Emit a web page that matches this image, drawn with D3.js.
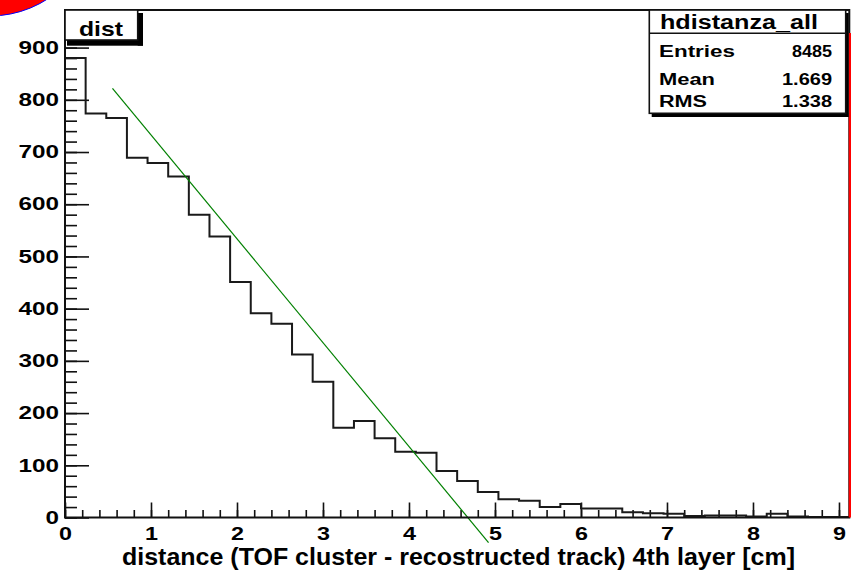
<!DOCTYPE html>
<html>
<head>
<meta charset="utf-8">
<script src="https://cdn.jsdelivr.net/npm/d3@7"></script>
<style>
body { margin: 0; background: #fff; }
svg { display: block; }
text { font-family: "Liberation Sans", Arial, sans-serif; font-weight: bold; fill: #000; }
</style>
</head>
<body>
<div id="chart"></div>
<script>
// histogram contents (38 bins of 0.24 cm starting at 0)
const binValues = [880, 774, 765, 689, 679, 653, 580, 538, 451, 391, 371, 312, 260, 172, 185, 152,
    126, 124, 89, 70, 49, 35, 32, 20, 26, 17, 17, 10, 8, 7, 3, 4, 4, 2, 7, 2, 1, 1]
const binStart = 0
const binWidth = 0.24
const xDomain = [0, 9.12]
const yDomain = [0, 972]
const xTicks = [0, 1, 2, 3, 4, 5, 6, 7, 8, 9]
const yTicks = [0, 100, 200, 300, 400, 500, 600, 700, 800, 900]
// linear fit p0 + p1*x and its range
const fitParams = [931.6, -198.9]
const fitRange = [0.552, 4.925]
const statNames = ["Entries", "Mean", "RMS"]
const statValues = ["8485", "1.669", "1.338"]
const histName = "hdistanza_all"
const histTitle = "dist"
const xTitle = "distance (TOF cluster - recostructed track) 4th layer [cm]"

const width = 851
const height = 571
const frame = {left: 65, right: 849.3, top: 10, bottom: 517.5}

const svg = d3.select("#chart").append("svg")
    .attr("width", width)
    .attr("height", height)

svg.append("rect").attr("width", width).attr("height", height).attr("fill", "#fff")

const x = d3.scaleLinear().domain(xDomain).range([frame.left, frame.right])
const y = d3.scaleLinear().domain(yDomain).range([frame.bottom, frame.top])

// red blob in the corner
svg.append("circle")
    .attr("cx", -10).attr("cy", -90).attr("r", 106)
    .attr("fill", "#ff0000").attr("stroke", "#0000ff").attr("stroke-width", 1)

// minor ticks
const xMinor = d3.range(0, 9.1, 0.2)
const yMinor = d3.range(0, 961, 20)

svg.append("g")
    .attr("transform", `translate(0,${frame.bottom})`)
    .call(d3.axisBottom(x).tickValues(xMinor).tickSize(-7.5).tickFormat(""))
    .call(g => g.select(".domain").remove())
    .selectAll("line").attr("stroke", "#111").attr("stroke-width", 1.6)

svg.append("g")
    .attr("transform", `translate(${frame.left},0)`)
    .call(d3.axisLeft(y).tickValues(yMinor).tickSize(-12).tickFormat(""))
    .call(g => g.select(".domain").remove())
    .selectAll("line").attr("stroke", "#111").attr("stroke-width", 1.6)

// major ticks + labels
const xAxis = svg.append("g")
    .attr("transform", `translate(0,${frame.bottom})`)
    .call(d3.axisBottom(x).tickValues(xTicks).tickSize(-15).tickPadding(9).tickFormat(d3.format("d")))
    .call(g => g.select(".domain").remove())
xAxis.selectAll("line").attr("stroke", "#111").attr("stroke-width", 1.6)
xAxis.selectAll("text")
    .attr("font-size", 19)
    .attr("font-family", null)
    .attr("textLength", d => String(d).length * 13)
    .attr("lengthAdjust", "spacingAndGlyphs")

const yAxis = svg.append("g")
    .attr("transform", `translate(${frame.left},0)`)
    .call(d3.axisLeft(y).tickValues(yTicks).tickSize(-24).tickPadding(6).tickFormat(d3.format("d")))
    .call(g => g.select(".domain").remove())
yAxis.selectAll("line").attr("stroke", "#111").attr("stroke-width", 1.6)
yAxis.selectAll("text")
    .attr("font-size", 18)
    .attr("font-family", null)
    .attr("textLength", d => String(d).length * 13.5)
    .attr("lengthAdjust", "spacingAndGlyphs")

// histogram outline
const edges = binValues.map((v, i) => ({x: binStart + i * binWidth, v: v}))
edges.push({x: binStart + binValues.length * binWidth, v: binValues[binValues.length - 1]})

const step = d3.line()
    .x(d => x(d.x))
    .y(d => y(d.v))
    .curve(d3.curveStepAfter)

svg.append("path")
    .datum(edges)
    .attr("d", step)
    .attr("fill", "none")
    .attr("stroke", "#1a1a1a")
    .attr("stroke-width", 2)

// fit line
const fitPoints = fitRange.map(t => ({x: t, v: fitParams[0] + fitParams[1] * t}))
svg.append("path")
    .datum(fitPoints)
    .attr("d", d3.line().x(d => x(d.x)).y(d => y(d.v)))
    .attr("fill", "none")
    .attr("stroke", "#008000")
    .attr("stroke-width", 1.2)

// frame
svg.append("rect")
    .attr("x", frame.left).attr("y", frame.top)
    .attr("width", frame.right - frame.left).attr("height", frame.bottom - frame.top)
    .attr("fill", "none").attr("stroke", "#111").attr("stroke-width", 2)

// red pad edge on the right
svg.append("line")
    .attr("x1", 850).attr("x2", 850).attr("y1", 33).attr("y2", frame.bottom)
    .attr("stroke", "#ff0000").attr("stroke-width", 2.5)

// title box
svg.append("rect").attr("x", 137.7).attr("y", 13).attr("width", 5.3).attr("height", 32.7).attr("fill", "#000")
svg.append("rect").attr("x", 67).attr("y", 40).attr("width", 76).attr("height", 5.7).attr("fill", "#000")
svg.append("rect")
    .attr("x", frame.left).attr("y", frame.top).attr("width", 72.7).attr("height", 30)
    .attr("fill", "#fff").attr("stroke", "#111").attr("stroke-width", 1.6)
svg.append("text")
    .attr("x", 79).attr("y", 35.5)
    .attr("font-size", 21)
    .attr("textLength", 44).attr("lengthAdjust", "spacingAndGlyphs")
    .text(histTitle)

// stats box
const sb = {left: 649.3, right: 845.7, top: 10, sep: 33.3, bottom: 113.3}
svg.append("rect").attr("x", 651.7).attr("y", sb.bottom).attr("width", 196.5).attr("height", 3.7).attr("fill", "#000")
svg.append("rect").attr("x", sb.right).attr("y", 13).attr("width", 3).attr("height", 104).attr("fill", "#000")
svg.append("rect")
    .attr("x", sb.left).attr("y", sb.top).attr("width", sb.right - sb.left).attr("height", sb.bottom - sb.top)
    .attr("fill", "#fff").attr("stroke", "#111").attr("stroke-width", 1.6)
svg.append("line")
    .attr("x1", sb.left).attr("x2", sb.right).attr("y1", sb.sep).attr("y2", sb.sep)
    .attr("stroke", "#111").attr("stroke-width", 1.6)
svg.append("text")
    .attr("x", 739).attr("y", 28.5)
    .attr("text-anchor", "middle")
    .attr("font-size", 20)
    .attr("textLength", 158).attr("lengthAdjust", "spacingAndGlyphs")
    .text(histName)

const rowBase = [56.7, 84.5, 106.7]
const nameLen = [76, 56, 48]
svg.append("g").selectAll("text")
    .data(statNames)
    .join("text")
    .attr("x", 659)
    .attr("y", (d, i) => rowBase[i])
    .attr("font-size", 16)
    .attr("textLength", (d, i) => nameLen[i]).attr("lengthAdjust", "spacingAndGlyphs")
    .text(d => d)
svg.append("g").selectAll("text")
    .data(statValues)
    .join("text")
    .attr("x", 832)
    .attr("y", (d, i) => rowBase[i])
    .attr("text-anchor", "end")
    .attr("font-size", 16)
    .attr("textLength", d => d.length * 10)
    .attr("lengthAdjust", "spacingAndGlyphs")
    .text(d => d)

// x axis title, right aligned to the axis end
svg.append("text")
    .attr("x", 795).attr("y", 565)
    .attr("text-anchor", "end")
    .attr("font-size", 23)
    .attr("textLength", 673).attr("lengthAdjust", "spacingAndGlyphs")
    .text(xTitle)
</script>
</body>
</html>
